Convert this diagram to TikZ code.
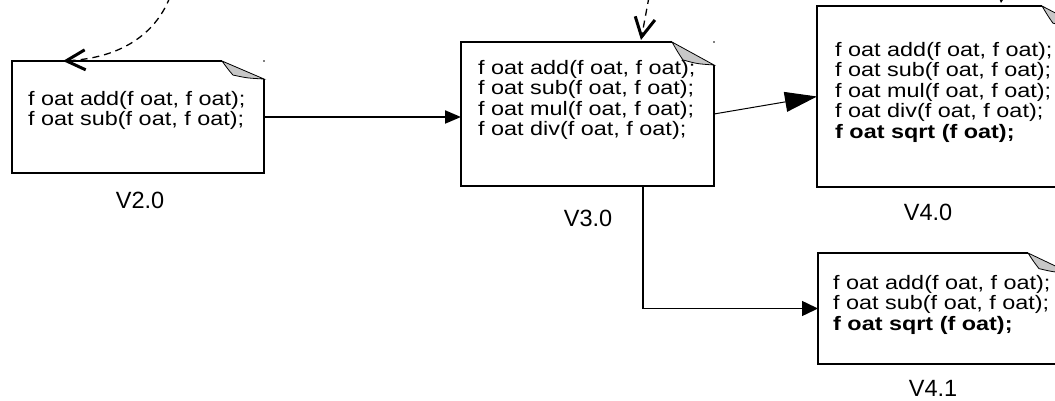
\documentclass[tikz,border=0pt]{standalone}
\usepackage{fontspec}
\setmainfont{Liberation Sans}
\newfontfamily\codefont{Liberation Sans}[FakeStretch=1.2]
\usetikzlibrary{arrows.meta,calc}
\newcommand\docbox[3]{%
  \draw[boxline] ($(#1.north east)+(-#2,0)$) -- (#1.north west) -- (#1.south west) -- (#1.south east) -- ($(#1.north east)+(0,#3)$);
  \draw[foldfill] ($(#1.north east)+(-#2,0)$) -- ($(#1.north east)+(0,#3)$)
     .. controls ($(#1.north east)+(-0.4*#2,0.95*#3)$) .. ($(#1.north east)+(-0.74*#2,0.78*#3)$)
     .. controls ($(#1.north east)+(-0.86*#2,0.45*#3)$) .. cycle;
  \fill (#1.north east) circle (0.8pt);
}
\begin{document}
\begin{tikzpicture}[x=1pt,y=-1pt,
  box/.style={rectangle, draw=none, inner sep=0pt, outer sep=0pt},
  boxline/.style={line width=2pt, line join=miter},
  foldfill/.style={fill=black!22, draw=black, line width=0.8pt},
  code/.style={font=\codefont\fontsize{19.5}{20.5}\selectfont, align=left, anchor=north west, inner sep=0pt},
  vlabel/.style={font=\fontsize{23.5}{26}\selectfont, inner sep=0pt},
  dashedlink/.style={dash pattern=on 7pt off 5pt, line width=1.3pt, -{Straight Barb[length=19pt,width=20pt,line width=3pt]}},
  thickarrow/.style={line width=2pt, -{Triangle[length=16pt,width=13pt]}},
  thinarrow/.style={line width=1pt, -{Triangle[length=32pt,width=20pt]}},
  midarrow/.style={line width=1.5pt, -{Triangle[length=16pt,width=15pt]}}]
\useasboundingbox (0,0) rectangle (1055,401);
\clip (0,0) rectangle (1055,401);

% document boxes
\node[box, minimum width=252pt, minimum height=112pt] (b2) at (138,117) {};
\node[box, minimum width=253pt, minimum height=144pt] (b3) at (587.5,114) {};
\node[box, minimum width=267pt, minimum height=181pt] (b4) at (950.5,96.5) {};
\node[box, minimum width=252pt, minimum height=111pt] (b41) at (944,308.5) {};
\docbox{b2}{42}{18}
\docbox{b3}{42}{23}
\docbox{b4}{42}{22}
\docbox{b41}{42}{20}

% texts
\node[code] (t2) at (28,91) {f oat add(f oat, f oat);\\f oat sub(f oat, f oat);};
\node[code] (t3) at (478,60) {f oat add(f oat, f oat);\\f oat sub(f oat, f oat);\\f oat mul(f oat, f oat);\\f oat div(f oat, f oat);};
\node[code] (t4) at (835,42) {f oat add(f oat, f oat);\\f oat sub(f oat, f oat);\\f oat mul(f oat, f oat);\\f oat div(f oat, f oat);\\\textbf{f oat sqrt (f oat);}};
\node[code] (t41) at (833,275) {f oat add(f oat, f oat);\\f oat sub(f oat, f oat);\\\textbf{f oat sqrt (f oat);}};

% labels
\node[vlabel] (l2) at (140,200) {V2.0};
\node[vlabel] (l3) at (588,218) {V3.0};
\node[vlabel] (l4) at (928,212) {V4.0};
\node[vlabel] (l41) at (933,388) {V4.1};

% connectors
\draw[thickarrow] (b2.east) -- (b2.east -| b3.west);
\draw[thinarrow] (b3.east) -- (b4.west);
\coordinate (drop) at ($(b3.south)+(55.5,0)$);
\draw[midarrow] (drop) |- (b41.west);

% dashed incoming links
\coordinate (d2) at (170,-3);
\coordinate (d3) at (649,-3);
\coordinate (d4) at (1005,-40);
\draw[dashedlink] (d2) .. controls (155,35) and (120,58) .. ($(b2.north west)+(51,0)$);
\draw[dashedlink] (d3) -- ($(b3.north west)+(180,-2)$);
\draw[dashedlink] (d4) -- ($(b4.north west)+(184,-3)$);
\end{tikzpicture}
\end{document}
